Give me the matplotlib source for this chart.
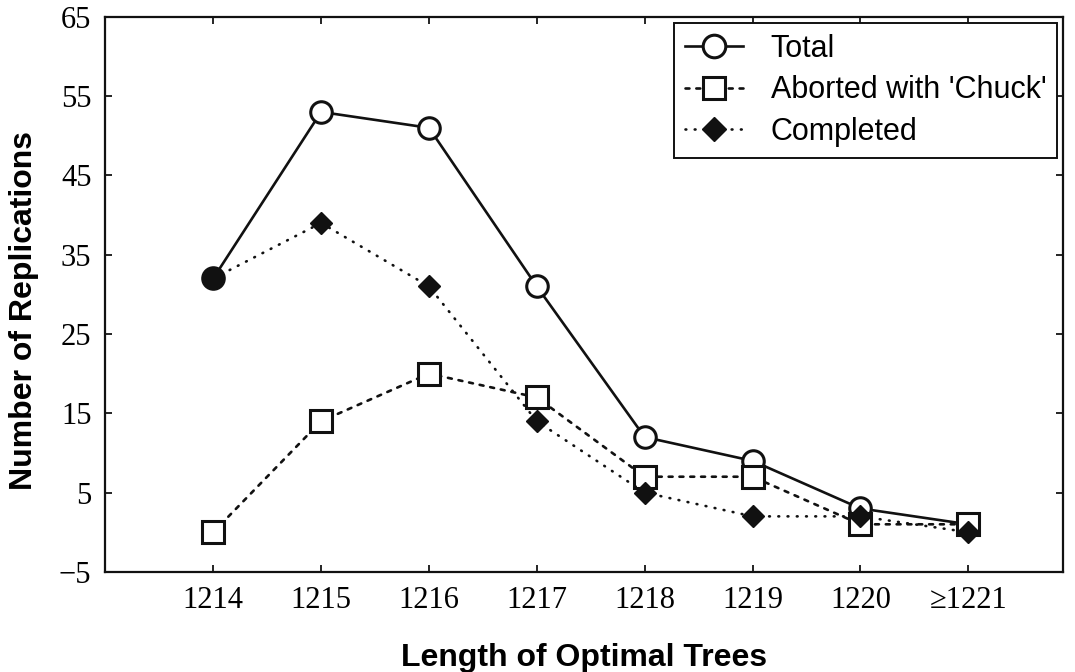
import matplotlib
matplotlib.use("Agg")
import matplotlib.pyplot as plt
import numpy as np

categories = ["1214", "1215", "1216", "1217", "1218", "1219", "1220", "\u22651221"]
total = [32, 53, 51, 31, 12, 9, 3, 1]
aborted = [0, 14, 20, 17, 7, 7, 1, 1]
completed = [32, 39, 31, 14, 5, 2, 2, 0]
yticks = [-5, 5, 15, 25, 35, 45, 55, 65]

fig = plt.figure(figsize=(10.75, 6.72), dpi=100)
ax = fig.add_axes([0.098, 0.149, 0.891, 0.826])

x = np.arange(len(categories))
lw = 1.9
ax.plot(x, total, color="#111111", lw=lw, ls="-", marker="o", ms=15.5,
        mfc="white", mec="#111111", mew=2.2, label="Total", zorder=3)
ax.plot(x[:1], total[:1], ls="none", marker="o", ms=15.5, mfc="#111111",
        mec="#111111", zorder=6)
ax.plot(x, aborted, color="#111111", lw=lw, ls=(0, (1.5, 2.6)), marker="s", ms=15.5,
        mfc="white", mec="#111111", mew=2.2, label="Aborted with 'Chuck'", zorder=4,
        dash_capstyle="round")
ax.plot(x[1:], completed[1:], color="#111111", lw=lw, ls=(0, (0.3, 3.2)), marker="D", ms=11.5,
        mfc="#111111", mec="#111111", mew=1, label="Completed", zorder=5,
        dash_capstyle="round")
ax.plot(x[:2], completed[:2], color="#111111", lw=lw, ls=(0, (0.3, 3.2)), zorder=5,
        dash_capstyle="round")

ax.set_xlim(-1, 7.88)
ax.set_ylim(-5, 65)
ax.set_xticks(x)
ax.set_xticklabels(categories, family="Liberation Serif", fontsize=22)
ax.set_yticks(yticks)
ax.set_yticklabels([str(v).replace("-", "\u2212") for v in yticks],
                   family="Liberation Serif", fontsize=22)
ax.tick_params(direction="in", length=5, width=1.2, top=True, right=True, pad=10)
for s in ax.spines.values():
    s.set_linewidth(1.6)
    s.set_color("#111111")

ax.set_xlabel("Length of Optimal Trees", family="Liberation Sans", fontweight="bold",
              fontsize=23, labelpad=20)
ax.set_ylabel("Number of Replications", family="Liberation Sans", fontweight="bold",
              fontsize=23)
ax.yaxis.set_label_coords(-0.069, 0.47)

leg = ax.legend(loc="upper right", prop={"family": "Liberation Sans", "size": 22},
                frameon=True, fancybox=False, edgecolor="#111111", framealpha=1,
                handlelength=1.9, borderaxespad=0.2, labelspacing=0.38,
                handletextpad=0.9, borderpad=0.35, markerscale=1.05)
leg.get_frame().set_linewidth(1.4)

fig.savefig("out.png", dpi=100)
